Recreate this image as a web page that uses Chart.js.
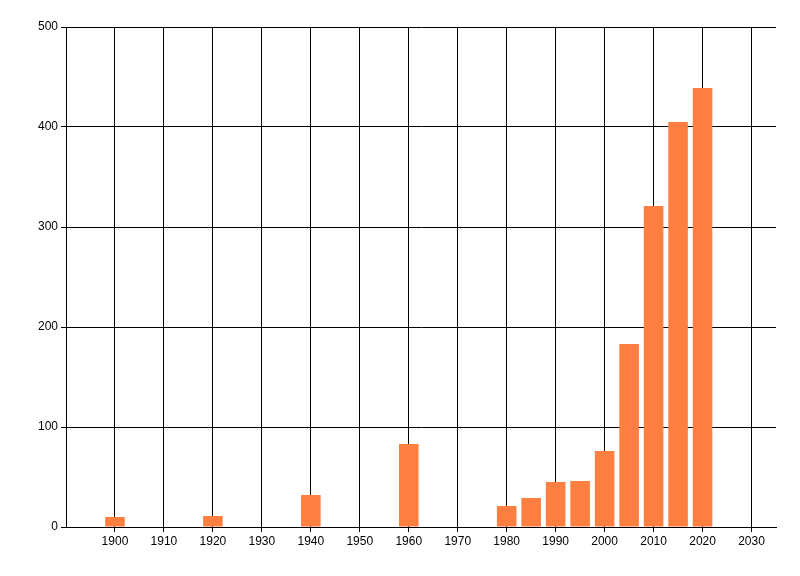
<!DOCTYPE html>
<html>
<head>
<meta charset="utf-8">
<script src="https://cdn.jsdelivr.net/npm/chart.js@4"></script>
<style>
    html, body { margin: 0; padding: 0; background: #fff; }
    #wrap { width: 800px; height: 576px; }
</style>
</head>
<body>
<div id="wrap"><canvas id="chart"></canvas></div>
<script>
// Data
const years = [1900, 1920, 1940, 1960, 1980, 1985, 1990, 1995, 2000, 2005, 2010, 2015, 2020];
const counts = [10, 11, 32, 83, 21, 29, 45, 46, 76, 183, 321, 405, 439];
const xTicks = [1900, 1910, 1920, 1930, 1940, 1950, 1960, 1970, 1980, 1990, 2000, 2010, 2020, 2030];
const yTicks = [0, 100, 200, 300, 400, 500];

const barColor = '#ff7f40';

const points = years.map((y, i) => ({ x: y, y: counts[i] }));

const tickFont = { family: '"Liberation Sans", Arial, sans-serif', size: 12 };

new Chart(document.getElementById('chart'), {
    type: 'bar',
    data: {
        datasets: [{
            data: points,
            backgroundColor: barColor,
            borderWidth: 0,
            barPercentage: 1,
            categoryPercentage: 0.8
        }]
    },
    options: {
        responsive: true,
        maintainAspectRatio: false,
        animation: false,
        layout: { padding: { left: 0, top: 27, right: 24, bottom: 0 } },
        plugins: {
            legend: { display: false },
            tooltip: { enabled: false }
        },
        scales: {
            x: {
                type: 'linear',
                min: 1890,
                max: 2035,
                offset: false,
                grid: { offset: false, color: '#000', lineWidth: 1, tickLength: 5, drawTicks: true },
                border: { color: '#000', width: 1 },
                ticks: {
                    stepSize: 10,
                    includeBounds: false,
                    color: '#000',
                    font: tickFont,
                    maxRotation: 0,
                    padding: 2,
                    // plain years, no thousands separator
                    callback: value => String(value)
                },
                afterBuildTicks: scale => {
                    scale.ticks = xTicks.map(v => ({ value: v }));
                },
                afterFit: scale => { scale.height = 49; }
            },
            y: {
                min: 0,
                max: 500,
                grid: { color: '#000', lineWidth: 1, tickLength: 5 },
                border: { color: '#000', width: 1 },
                ticks: {
                    stepSize: 100,
                    color: '#000',
                    font: tickFont,
                    padding: 3,
                    callback: value => String(value)
                },
                afterBuildTicks: scale => {
                    scale.ticks = yTicks.map(v => ({ value: v }));
                },
                afterFit: scale => { scale.width = 66; }
            }
        }
    }
});
</script>
</body>
</html>
